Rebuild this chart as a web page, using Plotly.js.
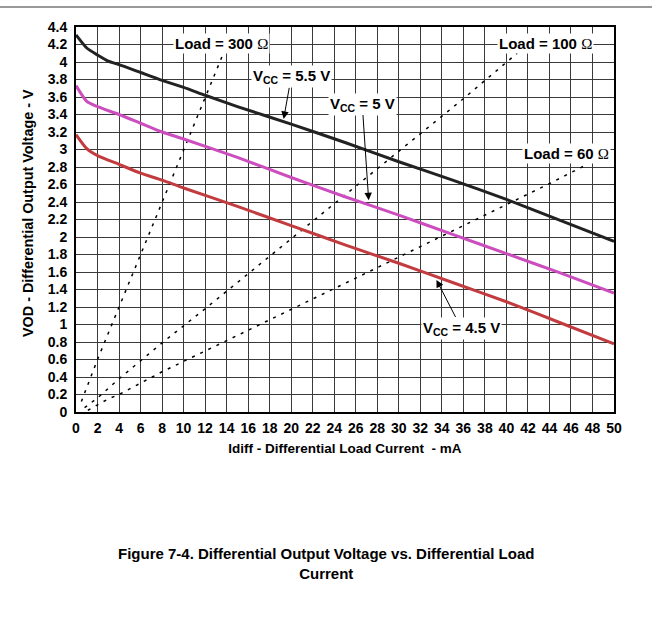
<!DOCTYPE html>
<html>
<head>
<meta charset="utf-8">
<script src="https://cdn.plot.ly/plotly-3.0.1.min.js"></script>
<style>html,body{margin:0;padding:0;background:#fff;}#chart{width:652px;height:622px;}</style>
</head>
<body>
<div id="chart"></div>
<script>
// Current (mA) and output voltage (V)
const vcc55_x = [0, 1, 2, 3, 4, 6, 8, 10, 12, 15, 20, 25, 30, 35, 40, 45, 50];
const vcc55_y = [4.31, 4.16, 4.08, 4.01, 3.97, 3.88, 3.79, 3.71, 3.62, 3.49, 3.29, 3.08, 2.86, 2.65, 2.43, 2.19, 1.95];
const vcc5_x = [0, 1, 2, 4, 6, 8, 10, 15, 20, 25, 30, 35, 40, 45, 50];
const vcc5_y = [3.73, 3.55, 3.49, 3.40, 3.30, 3.20, 3.12, 2.91, 2.68, 2.46, 2.25, 2.03, 1.81, 1.59, 1.36];
const vcc45_x = [0, 1, 2, 4, 6, 8, 10, 15, 20, 25, 30, 35, 40, 45, 50];
const vcc45_y = [3.17, 3.01, 2.93, 2.83, 2.73, 2.65, 2.56, 2.35, 2.13, 1.91, 1.70, 1.48, 1.26, 1.02, 0.78];
const load300_x = [0.5, 2, 4, 6, 8, 10, 12, 13.7];
const load300_y = [0.12, 0.6, 1.2, 1.8, 2.4, 3.0, 3.6, 4.1];
const load100_x = [0.8, 2, 4, 8, 12, 16, 20, 24, 28, 32, 36, 41];
const load100_y = [0.05, 0.16, 0.38, 0.79, 1.18, 1.58, 1.98, 2.38, 2.78, 3.18, 3.58, 4.1];
const load60_x = [1.1, 3, 4, 8, 13.4, 20, 26, 32, 38, 44, 47.5];
const load60_y = [0.02, 0.15, 0.2, 0.46, 0.78, 1.17, 1.53, 1.89, 2.25, 2.61, 2.83];
const xTicks = [0,2,4,6,8,10,12,14,16,18,20,22,24,26,28,30,32,34,36,38,40,42,44,46,48,50];
const yTicks = [0,0.2,0.4,0.6,0.8,1,1.2,1.4,1.6,1.8,2,2.2,2.4,2.6,2.8,3,3.2,3.4,3.6,3.8,4,4.2,4.4];

const FONT = 'Liberation Sans, Arial, sans-serif';
const OM = '<span style="font-family:Liberation Serif;font-weight:normal">Ω</span>';

const dashLine = (x, y) => ({x, y, mode: 'lines', type: 'scatter', hoverinfo: 'skip',
  line: {color: '#000', width: 1.5, dash: '3px,6px'}, showlegend: false});
const solid = (x, y, c) => ({x, y, mode: 'lines', type: 'scatter', hoverinfo: 'skip',
  line: {color: c, width: 3, shape: 'spline', smoothing: 0.6}, showlegend: false});

const data = [
  dashLine(load300_x, load300_y),
  dashLine(load100_x, load100_y),
  dashLine(load60_x, load60_y),
  solid(vcc45_x, vcc45_y, '#c23b3f'),
  solid(vcc5_x, vcc5_y, '#cc4ebe'),
  solid(vcc55_x, vcc55_y, '#222222')
];

const LF = {family: FONT, size: 15, color: '#000', weight: 'bold'};
const box = (text, x, y) => ({text, x, y, xref: 'x', yref: 'y', showarrow: false,
  bgcolor: '#fff', borderpad: 1, font: LF});
const arr = (text, x, y, tx, ty) => ({text, x: tx, y: ty, xref: 'x', yref: 'y',
  ax: x, ay: y, axref: 'x', ayref: 'y', showarrow: true, arrowhead: 2, arrowsize: 1.5,
  arrowwidth: 1, arrowcolor: '#000', bgcolor: '#fff', borderpad: 1, font: LF});

const layout = {
  width: 652, height: 622, autosize: false,
  paper_bgcolor: '#fff', plot_bgcolor: '#fff',
  margin: {l: 76, r: 38, t: 27, b: 210},
  font: {family: FONT, color: '#000'},
  xaxis: {
    range: [0, 50], tickvals: xTicks, ticktext: xTicks.map(String),
    showgrid: true, gridcolor: '#3a3a3a', gridwidth: 1,
    showline: true, mirror: true, linecolor: '#000', linewidth: 2,
    ticks: '', zeroline: false, ticklabelstandoff: 2,
    tickfont: {family: FONT, size: 14, weight: 'bold'},
    title: {text: 'Idiff - Differential Load Current  - mA', standoff: 9,
      font: {family: FONT, size: 13.5, weight: 'bold'}}
  },
  yaxis: {
    range: [0, 4.4], tickvals: yTicks, ticktext: yTicks.map(String),
    showgrid: true, gridcolor: '#3a3a3a', gridwidth: 1,
    showline: true, mirror: true, linecolor: '#000', linewidth: 2,
    ticks: '', zeroline: false, ticklabelstandoff: 4,
    tickfont: {family: FONT, size: 14, weight: 'bold'}
  },
  shapes: [
    {type: 'line', xref: 'paper', yref: 'paper', x0: -0.2, x1: 1.1,
     y0: 1 + 20/385, y1: 1 + 20/385, line: {color: '#777', width: 1.5}}
  ],
  annotations: [
    box('Load = 300 ' + OM, 13.5, 4.21),
    box('Load = 100 ' + OM, 43.6, 4.21),
    box('Load = 60 ' + OM, 45.6, 2.96),
    arr('V<sub>CC</sub> = 5.5 V', 20.0, 3.83, 19.3, 3.35),
    arr('V<sub>CC</sub> = 5 V', 26.6, 3.52, 27.2, 2.42),
    arr('V<sub>CC</sub> = 4.5 V', 35.8, 0.96, 33.5, 1.51),
    {text: 'VOD - Differential Output Voltage - V', textangle: -90,
     xref: 'paper', yref: 'paper', x: (28 - 76) / 538, y: 1 - (213 - 27) / 385,
     xanchor: 'center', yanchor: 'middle', showarrow: false,
     font: {family: FONT, size: 14.4, weight: 'bold', color: '#000'}},
    {text: 'Figure 7-4. Differential Output Voltage vs. Differential Load<br>Current',
     xref: 'paper', yref: 'paper', x: (326 - 76) / 538, y: 1 - (563 - 27) / 385,
     xanchor: 'center', yanchor: 'middle', showarrow: false,
     font: {family: FONT, size: 15, weight: 'bold', color: '#000'}}
  ]
};

Plotly.newPlot('chart', data, layout, {staticPlot: true, displayModeBar: false});
</script>
</body>
</html>
